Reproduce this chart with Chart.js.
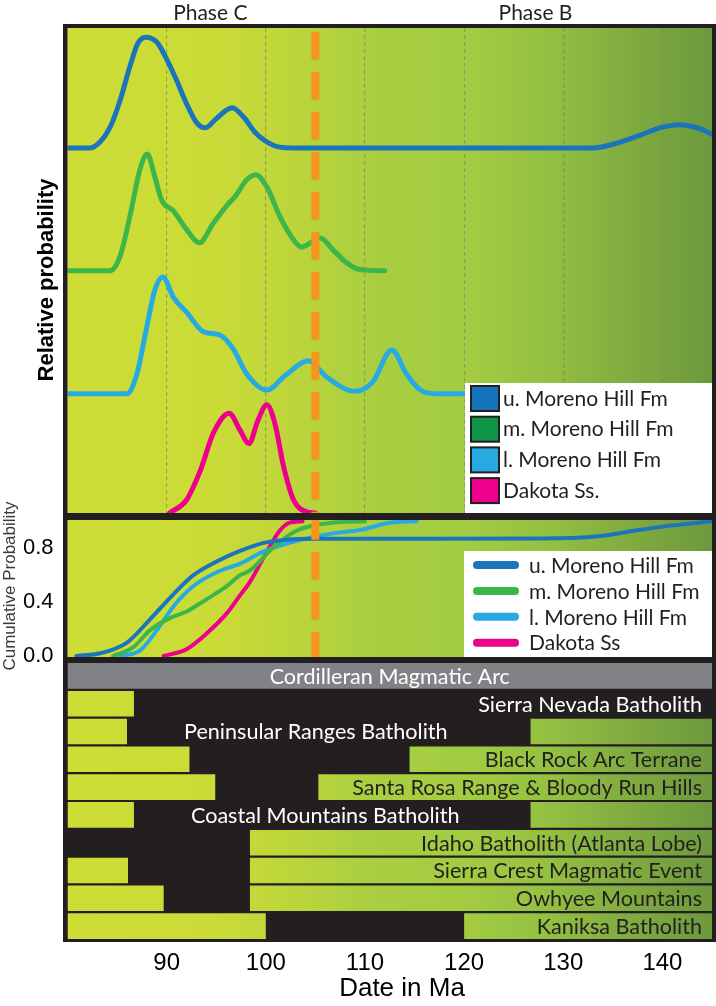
<!DOCTYPE html>
<html>
<head>
<meta charset="utf-8">
<script src="https://cdn.jsdelivr.net/npm/chart.js@4.4.1/dist/chart.umd.min.js"></script>
<style>
  html, body { margin: 0; padding: 0; background: #fff; }
  #wrap { position: relative; width: 716px; height: 1006px; }
  canvas { position: absolute; left: 0; }
  #cumTitle {
    position: absolute; left: -90px; top: 576px; width: 200px; height: 20px;
    line-height: 20px; text-align: center; transform: rotate(-90deg);
    font: 17px "Liberation Sans", Arial, sans-serif; color: #3a3a3a; white-space: nowrap;
  }
</style>
</head>
<body>
<div id="wrap">
  <canvas id="probChart" width="716" height="520" style="top:0"></canvas>
  <canvas id="cumChart" width="716" height="142" style="top:520px"></canvas>
  <canvas id="arcChart" width="716" height="344" style="top:662px"></canvas>
  <div id="cumTitle">Cumulative Probability</div>
</div>
<script>
// x축 (Ma)
const ageMin = 80, ageMax = 145;
const ageTicks = [90, 100, 110, 120, 130, 140];
const phaseBoundary = 105;
const phaseNames = ['Phase C', 'Phase B'];
const phaseLabelAges = [94.4, 127.2];

// 상대 확률 (KDE) - 곡선 이름, 세로 오프셋
const probNames = ['u. Moreno Hill Fm', 'm. Moreno Hill Fm', 'l. Moreno Hill Fm', 'Dakota Ss.'];
const probOffsets = [3, 1.99, 0.98, 0];

const uMorenoAge  = [80, 82.3, 83.3, 84.3, 85.3, 86.3, 87.1, 87.9, 89.0, 90.0, 91.0, 92.0, 93.0, 93.9, 95.0, 96.6, 97.8, 99.0, 100.8, 102.6, 133.0, 135.3, 137.6, 140.0, 141.7, 143.7, 145.5];
const uMorenoProb = [0, 0, 0.05, 0.17, 0.39, 0.67, 0.86, 0.91, 0.87, 0.73, 0.555, 0.365, 0.21, 0.165, 0.24, 0.33, 0.25, 0.12, 0.02, 0, 0, 0.036, 0.10, 0.17, 0.19, 0.16, 0.09];

const mMorenoAge  = [80, 84.3, 85.3, 86.3, 87.3, 88.05, 88.8, 89.5, 90.7, 92.0, 93.3, 94.7, 96.1, 96.9, 98.1, 99.0, 100.1, 101.4, 102.8, 103.6, 105.5, 106.8, 108.2, 109.5, 112.0];
const mMorenoProb = [0, 0, 0.12, 0.45, 0.83, 0.96, 0.775, 0.58, 0.49, 0.34, 0.23, 0.39, 0.54, 0.61, 0.75, 0.79, 0.69, 0.45, 0.255, 0.195, 0.27, 0.17, 0.063, 0.01, 0];

const lMorenoAge  = [80, 86.0, 87.0, 88.0, 88.8, 89.6, 90.7, 92.0, 93.7, 95.4, 96.7, 98.1, 100.1, 102.1, 104.3, 106.1, 109.0, 110.8, 112.7, 114.2, 115.6, 117, 145];
const lMorenoProb = [0, 0, 0.164, 0.55, 0.85, 0.96, 0.79, 0.67, 0.51, 0.48, 0.37, 0.16, 0.03, 0.16, 0.27, 0.14, 0.02, 0.10, 0.36, 0.16, 0.03, 0, 0];

const dakotaAge  = [90.3, 92.0, 93.4, 94.7, 96.3, 97.4, 98.3, 99.2, 100.1, 100.9, 101.8, 102.8, 104.1, 105];
const dakotaProb = [0, 0.107, 0.35, 0.655, 0.82, 0.68, 0.57, 0.76, 0.89, 0.74, 0.38, 0.107, 0.01, 0];

// 누적 확률
const cumNames = ['u. Moreno Hill Fm', 'm. Moreno Hill Fm', 'l. Moreno Hill Fm', 'Dakota Ss'];
const cumTicks = [0, 0.4, 0.8];

const uMorenoCumAge = [80.9, 83.3, 86.0, 88.3, 90.7, 92.7, 95.0, 97.4, 99.7, 102.1, 105.1, 128, 133, 137.6, 141, 145];
const uMorenoCum    = [0, 0.02, 0.10, 0.27, 0.46, 0.60, 0.70, 0.78, 0.838, 0.863, 0.87, 0.872, 0.885, 0.935, 0.97, 1.0];

const mMorenoCumAge = [84.6, 86.6, 88.3, 90.0, 92.0, 94.0, 96.1, 97.4, 98.4, 100.8, 103.1, 105.3, 107.5, 110];
const mMorenoCum    = [0, 0.063, 0.19, 0.27, 0.33, 0.42, 0.52, 0.60, 0.635, 0.81, 0.93, 0.975, 0.995, 1.0];

const lMorenoCumAge = [85.3, 87.3, 89.0, 90.7, 92.7, 95.0, 97.4, 99.75, 103.1, 106.5, 109.8, 112.5, 115.2];
const lMorenoCum    = [0, 0.04, 0.19, 0.37, 0.52, 0.62, 0.686, 0.775, 0.855, 0.907, 0.94, 0.99, 1.0];

const dakotaCumAge = [89.7, 92.0, 94.0, 96.1, 97.4, 98.4, 100.1, 101.4, 102.4, 103.7];
const dakotaCum    = [0, 0.05, 0.165, 0.32, 0.45, 0.55, 0.775, 0.93, 0.99, 1.0];

// 마그마 호 막대 (시작, 끝 Ma)
const arcRows = ['Cordilleran Magmatic Arc', 'Sierra Nevada Batholith', 'Peninsular Ranges Batholith',
  'Black Rock Arc Terrane', 'Santa Rosa Range & Bloody Run Hills', 'Coastal Mountains Batholith',
  'Idaho Batholith (Atlanta Lobe)', 'Sierra Crest Magmatic Event', 'Owhyee Mountains', 'Kaniksa Batholith'];
const arcSpan   = [[80, 145], null, null, null, null, null, null, null, null, null];
const earlyBars = [null, [80, 86.7], [80, 86.0], [80, 92.3], [80, 94.9], [80, 86.7], null, [80, 86.1], [80, 89.7], [80, 100]];
const lateBars  = [null, null, [126.7, 145], [114.5, 145], [105.3, 145], [126.7, 145], [98.4, 145], [98.4, 145], [98.4, 145], [120, 145]];

const ink = '#231f20';
const lineColors = ['#1b75bc', '#3cb54a', '#27aae1', '#ec008c'];
const boxColors  = ['#1474bb', '#0f9548', '#27aae1', '#ec008c'];
const orange = '#f7941d';
const labelFont = 'Lato, "Open Sans", sans-serif';

function phaseGradient(ctx, a) {
  const g = ctx.createLinearGradient(a.left, 0, a.right, 0);
  g.addColorStop(0, '#cedd36');
  g.addColorStop(0.23, '#cadb37');
  g.addColorStop(0.354, '#bcd53b');
  g.addColorStop(0.46, '#aacf40');
  g.addColorStop(0.615, '#a3cc41');
  g.addColorStop(0.74, '#95c142');
  g.addColorStop(0.86, '#82ad40');
  g.addColorStop(1, '#6c993d');
  return g;
}

function drawFrame(ctx, a, t, r, b, l) {
  ctx.fillStyle = ink;
  const w = a.right - a.left + l + r, h = a.bottom - a.top + t + b;
  ctx.fillRect(a.left - l, a.top - t, w, t);
  ctx.fillRect(a.left - l, a.bottom, w, b);
  ctx.fillRect(a.left - l, a.top - t, l, h);
  ctx.fillRect(a.right, a.top - t, r, h);
}

function toPoints(ages, vals, off) {
  return ages.map((x, i) => ({ x: x, y: vals[i] + (off || 0) }));
}

function fixedTicks(list) {
  return s => { s.ticks = list.map(v => ({ value: v })); };
}

// ---------- 상단: 상대 확률 ----------
const probSeries = [[uMorenoAge, uMorenoProb], [mMorenoAge, mMorenoProb], [lMorenoAge, lMorenoProb], [dakotaAge, dakotaProb]];
const probTop = 3.985;

const probDecor = {
  id: 'probDecor',
  beforeDraw(chart) {
    const { ctx, chartArea: a } = chart;
    ctx.save();
    ctx.fillStyle = phaseGradient(ctx, a);
    ctx.fillRect(a.left, a.top, a.right - a.left, a.bottom - a.top);
    ctx.restore();
  },
  afterDatasetsDraw(chart) {
    // 범례
    const { ctx, chartArea: a } = chart;
    const sets = chart.data.datasets.filter(d => d.label);
    const left = 465, top = 383;
    ctx.save();
    ctx.fillStyle = '#fff';
    ctx.fillRect(left, top, a.right - left, a.bottom - top);
    ctx.font = '21px ' + labelFont;
    ctx.textBaseline = 'middle';
    sets.forEach((d, i) => {
      const y = top + 3 + i * 30.7;
      ctx.fillStyle = d.backgroundColor;
      ctx.fillRect(left + 6, y, 28, 25);
      ctx.lineWidth = 2;
      ctx.strokeStyle = ink;
      ctx.strokeRect(left + 6, y, 28, 25);
      ctx.fillStyle = ink;
      ctx.fillText(d.label, left + 38, y + 13);
    });
    ctx.restore();
  },
  afterDraw(chart) {
    const { ctx, chartArea: a, scales } = chart;
    ctx.save();
    drawFrame(ctx, a, 4, 4, 7, 4.5);
    ctx.fillStyle = ink;
    ctx.font = '21px ' + labelFont;
    ctx.textAlign = 'center';
    ctx.textBaseline = 'alphabetic';
    phaseNames.forEach((n, i) => ctx.fillText(n, scales.x.getPixelForValue(phaseLabelAges[i]), 19.5));
    ctx.translate(47, 280);
    ctx.rotate(-Math.PI / 2);
    ctx.fillStyle = '#000';
    ctx.font = 'bold 22px "Liberation Sans", Arial, sans-serif';
    ctx.textBaseline = 'middle';
    ctx.fillText('Relative probability', 0, 0);
    ctx.restore();
  }
};

const probSets = probSeries.map((s, i) => ({
  label: probNames[i],
  data: toPoints(s[0], s[1], probOffsets[i]),
  borderColor: lineColors[i],
  backgroundColor: boxColors[i],
  borderWidth: 5,
  borderCapStyle: 'round',
  borderJoinStyle: 'round',
  pointRadius: 0,
  fill: false,
  cubicInterpolationMode: 'monotone'
}));
probSets.unshift({
  data: [{ x: phaseBoundary, y: probTop }, { x: phaseBoundary, y: 0 }],
  borderColor: orange,
  borderWidth: 8,
  borderDash: [28, 12],
  borderDashOffset: 36.3,
  pointRadius: 0,
  fill: false
});

new Chart(document.getElementById('probChart'), {
  type: 'line',
  data: { datasets: probSets },
  options: {
    responsive: false,
    animation: false,
    devicePixelRatio: 1,
    layout: { padding: { top: 28, bottom: 7, left: 67.5, right: 4 } },
    plugins: { legend: { display: false }, tooltip: { enabled: false } },
    scales: {
      x: {
        type: 'linear', min: ageMin, max: ageMax,
        afterBuildTicks: fixedTicks(ageTicks),
        afterFit: s => { s.height = 0; s.paddingLeft = 0; s.paddingRight = 0; },
        ticks: { display: false },
        grid: { color: 'rgba(120,120,110,0.55)', lineWidth: 1.2, drawTicks: false },
        border: { display: false, dash: [4, 3] }
      },
      y: { type: 'linear', display: false, min: 0, max: probTop }
    }
  },
  plugins: [probDecor]
});

// ---------- 중간: 누적 확률 ----------
const cumSeries = [[uMorenoCumAge, uMorenoCum], [mMorenoCumAge, mMorenoCum], [lMorenoCumAge, lMorenoCum], [dakotaCumAge, dakotaCum]];
const cumMin = -0.0076, cumMax = 1.01;

const cumDecor = {
  id: 'cumDecor',
  beforeDraw(chart) {
    const { ctx, chartArea: a } = chart;
    ctx.save();
    ctx.fillStyle = phaseGradient(ctx, a);
    ctx.fillRect(a.left, a.top, a.right - a.left, a.bottom - a.top);
    ctx.restore();
  },
  afterDatasetsDraw(chart) {
    const { ctx, chartArea: a } = chart;
    const sets = chart.data.datasets.filter(d => d.label);
    const left = 464, top = 31;
    ctx.save();
    ctx.fillStyle = '#fff';
    ctx.fillRect(left, top, a.right - left, a.bottom - top);
    ctx.font = '21px ' + labelFont;
    ctx.textBaseline = 'middle';
    sets.forEach((d, i) => {
      const y = 45 + i * 25.9;
      ctx.strokeStyle = d.borderColor;
      ctx.lineWidth = 8;
      ctx.lineCap = 'round';
      ctx.beginPath();
      ctx.moveTo(left + 13, y);
      ctx.lineTo(left + 51, y);
      ctx.stroke();
      ctx.fillStyle = ink;
      ctx.fillText(d.label, left + 65, y + 1);
    });
    ctx.restore();
  },
  afterDraw(chart) {
    const { ctx, chartArea: a } = chart;
    ctx.save();
    drawFrame(ctx, a, 0, 4, 5, 4.5);
    ctx.restore();
  }
};

const cumSets = cumSeries.map((s, i) => ({
  label: cumNames[i],
  data: toPoints(s[0], s[1]),
  borderColor: lineColors[i],
  borderWidth: 4,
  borderCapStyle: 'round',
  pointRadius: 0,
  fill: false,
  cubicInterpolationMode: 'monotone'
}));
cumSets.unshift({
  data: [{ x: phaseBoundary, y: cumMax }, { x: phaseBoundary, y: cumMin }],
  borderColor: orange,
  borderWidth: 8,
  borderDash: [28, 12],
  borderDashOffset: 8.3,
  pointRadius: 0,
  fill: false
});

new Chart(document.getElementById('cumChart'), {
  type: 'line',
  data: { datasets: cumSets },
  options: {
    responsive: false,
    animation: false,
    devicePixelRatio: 1,
    layout: { padding: { top: 0, bottom: 5, left: 0, right: 4 } },
    plugins: { legend: { display: false }, tooltip: { enabled: false } },
    scales: {
      x: { type: 'linear', display: false, min: ageMin, max: ageMax },
      y: {
        type: 'linear', min: cumMin, max: cumMax,
        afterBuildTicks: fixedTicks(cumTicks),
        afterFit: s => { s.width = 67.5; s.paddingTop = 0; s.paddingBottom = 0; },
        grid: { display: false, drawTicks: false },
        border: { display: false },
        ticks: {
          padding: 14, color: '#000',
          font: { family: '"Liberation Sans", Arial, sans-serif', size: 22 },
          callback: v => v.toFixed(1)
        }
      }
    }
  },
  plugins: [cumDecor]
});

// ---------- 하단: 마그마 호 ----------
function gradFill(c) {
  const { ctx, chartArea } = c.chart;
  if (!chartArea) return null;
  return phaseGradient(ctx, chartArea);
}

const arcDecor = {
  id: 'arcDecor',
  beforeDraw(chart) {
    const { ctx, chartArea: a } = chart;
    ctx.save();
    ctx.fillStyle = ink;
    ctx.fillRect(a.left - 4.5, a.top, a.right - a.left + 8.5, a.bottom - a.top + 2);
    ctx.restore();
  },
  afterDatasetsDraw(chart) {
    // 행 이름: 뒤쪽 막대에 들어가면 오른쪽 정렬, 아니면 빈 칸에
    const { ctx, chartArea: a, scales } = chart;
    const x = scales.x, y = scales.y;
    ctx.save();
    ctx.font = '21.6px ' + labelFont;
    ctx.textBaseline = 'middle';
    arcRows.forEach((name, i) => {
      const cy = y.getPixelForValue(i) + 1;
      if (arcSpan[i]) {
        ctx.fillStyle = '#fff';
        ctx.textAlign = 'center';
        ctx.fillText(name, (a.left + a.right) / 2, cy);
        return;
      }
      const w = ctx.measureText(name).width;
      const late = lateBars[i];
      if (!late) {
        ctx.fillStyle = '#fff';
        ctx.textAlign = 'right';
        ctx.fillText(name, a.right - 10, cy);
      } else if (w + 16 <= x.getPixelForValue(late[1]) - x.getPixelForValue(late[0])) {
        ctx.fillStyle = ink;
        ctx.textAlign = 'right';
        ctx.fillText(name, a.right - 10, cy);
      } else {
        ctx.fillStyle = '#fff';
        ctx.textAlign = 'left';
        ctx.fillText(name, x.getPixelForValue(earlyBars[i][1]) + 57, cy);
      }
    });
    ctx.restore();
  },
  afterDraw(chart) {
    const { ctx } = chart;
    ctx.save();
    ctx.fillStyle = '#000';
    ctx.font = '26px "Liberation Sans", Arial, sans-serif';
    ctx.textAlign = 'center';
    ctx.textBaseline = 'alphabetic';
    ctx.fillText('Date in Ma', 402, 334);
    ctx.restore();
  }
};

const barBase = { grouped: false, barPercentage: 0.92, categoryPercentage: 1, borderWidth: 0 };

new Chart(document.getElementById('arcChart'), {
  type: 'bar',
  data: {
    labels: arcRows,
    datasets: [
      Object.assign({ label: 'arc', data: arcSpan, backgroundColor: '#808285' }, barBase),
      Object.assign({ label: 'early', data: earlyBars, backgroundColor: gradFill }, barBase),
      Object.assign({ label: 'late', data: lateBars, backgroundColor: gradFill }, barBase)
    ]
  },
  options: {
    indexAxis: 'y',
    responsive: false,
    animation: false,
    devicePixelRatio: 1,
    layout: { padding: { top: 0, bottom: 0, left: 67.5, right: 4 } },
    plugins: { legend: { display: false }, tooltip: { enabled: false } },
    scales: {
      x: {
        type: 'linear', min: ageMin, max: ageMax,
        afterBuildTicks: fixedTicks(ageTicks),
        afterFit: s => { s.height = 66; s.paddingLeft = 0; s.paddingRight = 0; },
        grid: { display: false, drawTicks: false },
        border: { display: false },
        ticks: {
          padding: 9, color: '#000', maxRotation: 0,
          font: { family: '"Liberation Sans", Arial, sans-serif', size: 24 }
        }
      },
      y: { display: false }
    }
  },
  plugins: [arcDecor]
});
</script>
</body>
</html>
